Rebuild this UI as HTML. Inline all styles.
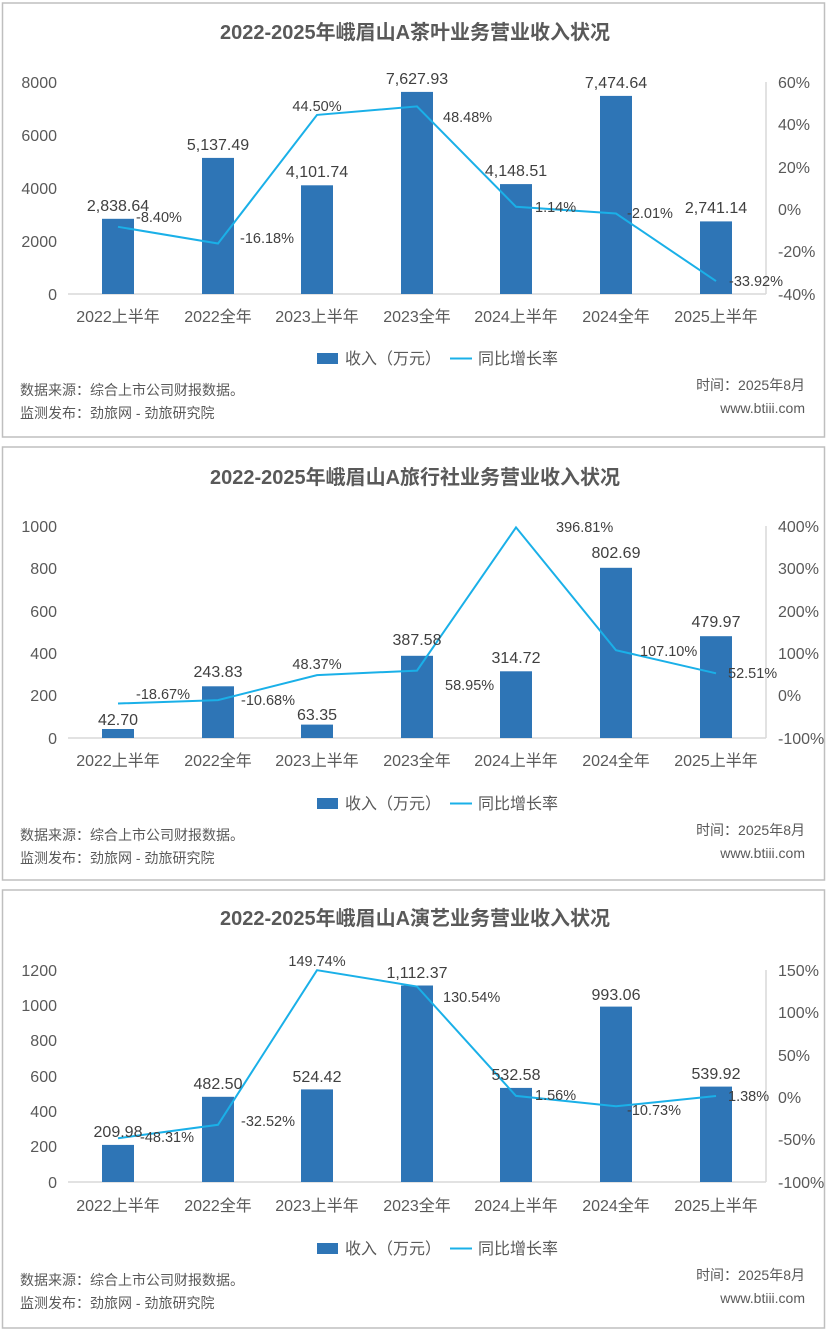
<!DOCTYPE html>
<html><head><meta charset="utf-8"><style>
html,body{margin:0;padding:0;background:#fff;}
svg{display:block;}
text{font-family:"Liberation Sans","Noto Sans CJK SC",sans-serif;}
.t{font-size:20px;font-weight:bold;fill:#595959;text-anchor:middle;}
.ax{font-size:16px;fill:#595959;}
.l{text-anchor:end;}
.x{font-size:16px;fill:#595959;text-anchor:middle;}
.v{font-size:16px;fill:#404040;text-anchor:middle;}
.p{font-size:14.5px;fill:#404040;}
.pm{font-size:14.5px;fill:#404040;text-anchor:middle;}
.lg{font-size:16px;fill:#595959;}
.s{font-size:14px;fill:#595959;}
.r{font-size:14px;fill:#595959;text-anchor:end;}
.bar{fill:#2e75b6;}
.ln{fill:none;stroke:#1ab0e8;stroke-width:2;}
.box{fill:#fff;stroke:#bfbfbf;stroke-width:1.5;}
.axl{stroke:#d9d9d9;stroke-width:1.5;}
</style></head><body>
<svg width="831" height="1333" viewBox="0 0 831 1333">
<!-- Panel 1 -->
<rect class="box" x="2.5" y="3" width="822" height="434"/>
<text class="t" x="415" y="39">2022-2025年峨眉山A茶叶业务营业收入状况</text>
<g class="ax l"><text x="57" y="88">8000</text><text x="57" y="141">6000</text><text x="57" y="194">4000</text><text x="57" y="247">2000</text><text x="57" y="300">0</text></g>
<g class="ax"><text x="778" y="88">60%</text><text x="778" y="130">40%</text><text x="778" y="173">20%</text><text x="778" y="215">0%</text><text x="778" y="257">-20%</text><text x="778" y="300">-40%</text></g>
<line class="axl" x1="68" y1="294" x2="766" y2="294"/><line class="axl" x1="766" y1="82" x2="766" y2="294"/>
<rect class="bar" x="102" y="218.8" width="32" height="75.2"/>
<rect class="bar" x="202" y="157.9" width="32" height="136.1"/>
<rect class="bar" x="301" y="185.3" width="32" height="108.7"/>
<rect class="bar" x="401" y="91.9" width="32" height="202.1"/>
<rect class="bar" x="500" y="184.1" width="32" height="109.9"/>
<rect class="bar" x="600" y="95.9" width="32" height="198.1"/>
<rect class="bar" x="700" y="221.4" width="32" height="72.6"/>
<polyline class="ln" points="118,226.8 218,243.5 317,114.9 417,106.4 516,206.8 616,213.5 716,281.1"/>
<g class="v"><text x="118" y="211">2,838.64</text><text x="218" y="150">5,137.49</text><text x="317" y="177">4,101.74</text><text x="417" y="84">7,627.93</text><text x="516" y="176">4,148.51</text><text x="616" y="88">7,474.64</text><text x="716" y="213">2,741.14</text></g>
<g class="p"><text x="136" y="222">-8.40%</text><text x="240" y="243">-16.18%</text><text x="443" y="122">48.48%</text><text x="535" y="212">1.14%</text><text x="627" y="218">-2.01%</text><text x="729" y="286">-33.92%</text></g>
<text class="pm" x="317" y="111">44.50%</text>
<g class="x"><text x="118" y="322">2022上半年</text><text x="218" y="322">2022全年</text><text x="317" y="322">2023上半年</text><text x="417" y="322">2023全年</text><text x="516" y="322">2024上半年</text><text x="616" y="322">2024全年</text><text x="716" y="322">2025上半年</text></g>
<rect class="bar" x="317" y="353" width="21" height="11"/><text class="lg" x="345" y="364">收入（万元）</text>
<line class="ln" x1="450" y1="358.5" x2="472" y2="358.5"/><text class="lg" x="478" y="364">同比增长率</text>
<text class="s" x="20" y="395">数据来源：综合上市公司财报数据。</text><text class="s" x="20" y="418">监测发布：劲旅网 - 劲旅研究院</text>
<text class="r" x="805" y="390">时间：2025年8月</text><text class="r" x="805" y="413">www.btiii.com</text>

<!-- Panel 2 -->
<rect class="box" x="2.5" y="447" width="822" height="433"/>
<text class="t" x="415" y="484">2022-2025年峨眉山A旅行社业务营业收入状况</text>
<g class="ax l"><text x="57" y="532">1000</text><text x="57" y="574">800</text><text x="57" y="617">600</text><text x="57" y="659">400</text><text x="57" y="701">200</text><text x="57" y="744">0</text></g>
<g class="ax"><text x="778" y="532">400%</text><text x="778" y="574">300%</text><text x="778" y="617">200%</text><text x="778" y="659">100%</text><text x="778" y="701">0%</text><text x="778" y="744">-100%</text></g>
<line class="axl" x1="68" y1="738" x2="766" y2="738"/><line class="axl" x1="766" y1="526" x2="766" y2="738"/>
<rect class="bar" x="102" y="729" width="32" height="9"/>
<rect class="bar" x="202" y="686.3" width="32" height="51.7"/>
<rect class="bar" x="301" y="724.6" width="32" height="13.4"/>
<rect class="bar" x="401" y="655.8" width="32" height="82.2"/>
<rect class="bar" x="500" y="671.3" width="32" height="66.7"/>
<rect class="bar" x="600" y="567.8" width="32" height="170.2"/>
<rect class="bar" x="700" y="636.2" width="32" height="101.8"/>
<polyline class="ln" points="118,703.5 218,700.1 317,675.1 417,670.6 516,527.4 616,650.2 716,673.3"/>
<g class="v"><text x="118" y="725">42.70</text><text x="218" y="677">243.83</text><text x="317" y="720">63.35</text><text x="417" y="645">387.58</text><text x="516" y="663">314.72</text><text x="616" y="558">802.69</text><text x="716" y="627">479.97</text></g>
<g class="p"><text x="136" y="699">-18.67%</text><text x="241" y="705">-10.68%</text><text x="445" y="690">58.95%</text><text x="556" y="532">396.81%</text><text x="640" y="656">107.10%</text><text x="728" y="678">52.51%</text></g>
<text class="pm" x="317" y="669">48.37%</text>
<g class="x"><text x="118" y="766">2022上半年</text><text x="218" y="766">2022全年</text><text x="317" y="766">2023上半年</text><text x="417" y="766">2023全年</text><text x="516" y="766">2024上半年</text><text x="616" y="766">2024全年</text><text x="716" y="766">2025上半年</text></g>
<rect class="bar" x="317" y="798" width="21" height="11"/><text class="lg" x="345" y="809">收入（万元）</text>
<line class="ln" x1="450" y1="803.5" x2="472" y2="803.5"/><text class="lg" x="478" y="809">同比增长率</text>
<text class="s" x="20" y="840">数据来源：综合上市公司财报数据。</text><text class="s" x="20" y="863">监测发布：劲旅网 - 劲旅研究院</text>
<text class="r" x="805" y="835">时间：2025年8月</text><text class="r" x="805" y="858">www.btiii.com</text>

<!-- Panel 3 -->
<rect class="box" x="2.5" y="890" width="822" height="438"/>
<text class="t" x="415" y="925">2022-2025年峨眉山A演艺业务营业收入状况</text>
<g class="ax l"><text x="57" y="976">1200</text><text x="57" y="1011">1000</text><text x="57" y="1046">800</text><text x="57" y="1082">600</text><text x="57" y="1117">400</text><text x="57" y="1152">200</text><text x="57" y="1188">0</text></g>
<g class="ax"><text x="778" y="976">150%</text><text x="778" y="1018">100%</text><text x="778" y="1061">50%</text><text x="778" y="1103">0%</text><text x="778" y="1145">-50%</text><text x="778" y="1188">-100%</text></g>
<line class="axl" x1="68" y1="1182" x2="766" y2="1182"/><line class="axl" x1="766" y1="970" x2="766" y2="1182"/>
<rect class="bar" x="102" y="1144.9" width="32" height="37.1"/>
<rect class="bar" x="202" y="1096.8" width="32" height="85.2"/>
<rect class="bar" x="301" y="1089.4" width="32" height="92.6"/>
<rect class="bar" x="401" y="985.5" width="32" height="196.5"/>
<rect class="bar" x="500" y="1087.9" width="32" height="94.1"/>
<rect class="bar" x="600" y="1006.6" width="32" height="175.4"/>
<rect class="bar" x="700" y="1086.6" width="32" height="95.4"/>
<polyline class="ln" points="118,1138.2 218,1124.8 317,970.2 417,986.5 516,1095.9 616,1106.3 716,1096"/>
<g class="v"><text x="118" y="1137">209.98</text><text x="218" y="1089">482.50</text><text x="317" y="1082">524.42</text><text x="417" y="978">1,112.37</text><text x="516" y="1080">532.58</text><text x="616" y="1000">993.06</text><text x="716" y="1079">539.92</text></g>
<g class="p"><text x="140" y="1142">-48.31%</text><text x="241" y="1126">-32.52%</text><text x="443" y="1002">130.54%</text><text x="535" y="1100">1.56%</text><text x="627" y="1115">-10.73%</text><text x="728" y="1101">1.38%</text></g>
<text class="pm" x="317" y="966">149.74%</text>
<g class="x"><text x="118" y="1211">2022上半年</text><text x="218" y="1211">2022全年</text><text x="317" y="1211">2023上半年</text><text x="417" y="1211">2023全年</text><text x="516" y="1211">2024上半年</text><text x="616" y="1211">2024全年</text><text x="716" y="1211">2025上半年</text></g>
<rect class="bar" x="317" y="1243" width="21" height="11"/><text class="lg" x="345" y="1254">收入（万元）</text>
<line class="ln" x1="450" y1="1248.5" x2="472" y2="1248.5"/><text class="lg" x="478" y="1254">同比增长率</text>
<text class="s" x="20" y="1285">数据来源：综合上市公司财报数据。</text><text class="s" x="20" y="1308">监测发布：劲旅网 - 劲旅研究院</text>
<text class="r" x="805" y="1280">时间：2025年8月</text><text class="r" x="805" y="1303">www.btiii.com</text>
</svg>
</body></html>
